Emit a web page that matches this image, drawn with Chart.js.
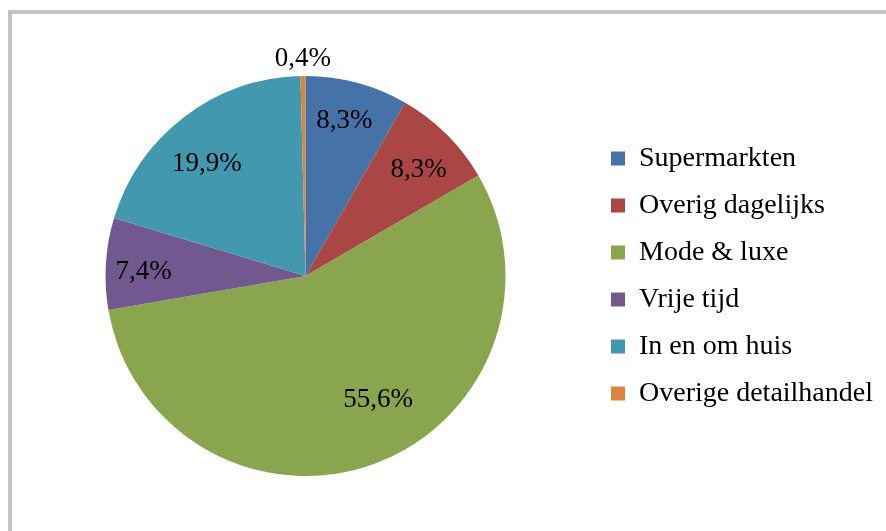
<!DOCTYPE html>
<html>
<head>
<meta charset="utf-8">
<script src="https://cdn.jsdelivr.net/npm/chart.js@4/dist/chart.umd.min.js"></script>
<style>
  html, body { margin: 0; padding: 0; background: #fff; overflow: hidden; }
  #frame { position: absolute; left: 8px; top: 10px; width: 900px; height: 560px; border: 4px solid #c3c3c3; }
  #wrap { position: absolute; left: 0; top: 0; width: 886px; height: 531px; }
</style>
</head>
<body>
<div id="frame"></div>
<div id="wrap"><canvas id="pieChart" width="886" height="531"></canvas></div>
<script>
// categorieen en aandelen (%)
const categorieen = ['Supermarkten', 'Overig dagelijks', 'Mode & luxe', 'Vrije tijd', 'In en om huis', 'Overige detailhandel'];
const aandelen = [8.3, 8.3, 55.6, 7.4, 19.9, 0.4];
const kleuren = ['#4572A7', '#AA4643', '#89A54E', '#71588F', '#4198AF', '#DB843D'];

// positie van de labels: fractie van de straal en verschuiving van de hoek (graden)
const labelAfstand = [0.80, 0.775, 0.72, 0.81, 0.745, 1.085];
const labelHoek = [-0.9, 2, -10.3, -2.1, -4.2, 0];

const lettertype = "'Liberation Serif', 'Times New Roman', serif";

// plugin die de percentages op de taartpunten zet
const percentageLabels = {
    id: 'percentageLabels',
    afterDatasetsDraw(chart) {
        const ctx = chart.ctx;
        const meta = chart.getDatasetMeta(0);
        ctx.save();
        ctx.font = '27px ' + lettertype;
        ctx.fillStyle = '#000';
        ctx.textAlign = 'center';
        ctx.textBaseline = 'middle';
        meta.data.forEach((arc, i) => {
            const p = arc.getProps(['x', 'y', 'startAngle', 'endAngle', 'outerRadius'], true);
            const mid = (p.startAngle + p.endAngle) / 2 + labelHoek[i] * Math.PI / 180;
            const r = p.outerRadius * labelAfstand[i];
            const tekst = aandelen[i].toFixed(1).replace('.', ',') + '%';
            ctx.fillText(tekst, p.x + Math.cos(mid) * r, p.y + Math.sin(mid) * r);
        });
        ctx.restore();
    }
};

const ctx = document.getElementById('pieChart').getContext('2d');
new Chart(ctx, {
    type: 'pie',
    data: {
        labels: categorieen,
        datasets: [{
            data: aandelen,
            backgroundColor: kleuren,
            borderWidth: 0
        }]
    },
    options: {
        responsive: false,
        animation: false,
        layout: {
            padding: { left: 19, top: 76, bottom: 55, right: 3 }
        },
        plugins: {
            legend: {
                display: true,
                position: 'right',
                align: 'center',
                labels: {
                    color: '#000',
                    font: { family: lettertype, size: 28 },
                    boxWidth: 14,
                    boxHeight: 14,
                    padding: 19
                }
            },
            tooltip: { enabled: false }
        }
    },
    plugins: [percentageLabels]
});
</script>
</body>
</html>
